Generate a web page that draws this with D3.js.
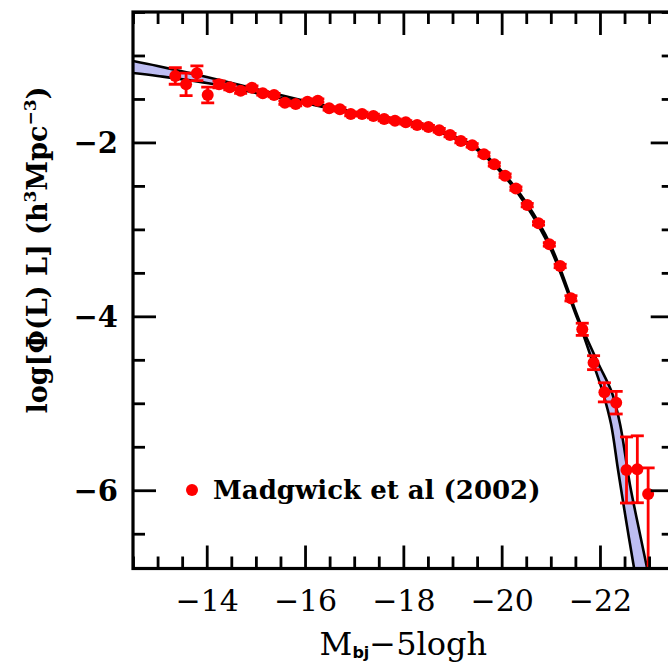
<!DOCTYPE html>
<html>
<head>
<meta charset="utf-8">
<script src="https://cdn.jsdelivr.net/npm/d3@7"></script>
<style>
  body { margin: 0; background: #fff; }
  svg { display: block; }
</style>
</head>
<body>
<div id="chart"></div>
<script>
// Madgwick et al (2002) luminosity function points
let mags = [-13.36, -13.58, -13.80, -14.02, -14.25, -14.47, -14.69, -14.92, -15.14, -15.37,
            -15.59, -15.81, -16.05, -16.26, -16.49, -16.71, -16.93, -17.16, -17.39, -17.61,
            -17.83, -18.05, -18.28, -18.51, -18.73, -18.95, -19.17, -19.40, -19.64, -19.85,
            -20.07, -20.29, -20.52, -20.75, -20.97, -21.19, -21.41, -21.64, -21.87, -22.09,
            -22.33, -22.54, -22.76, -22.98];
let logPhi = [-1.236, -1.332, -1.205, -1.455, -1.332, -1.366, -1.405, -1.371, -1.435, -1.455,
              -1.543, -1.558, -1.532, -1.520, -1.608, -1.619, -1.673, -1.673, -1.696, -1.731,
              -1.750, -1.769, -1.800, -1.823, -1.860, -1.915, -1.984, -2.033, -2.137, -2.252,
              -2.383, -2.530, -2.720, -2.930, -3.172, -3.421, -3.793, -4.149, -4.533, -4.874,
              -4.993, -5.767, -5.759, -6.043];
let errHi = [0.095, 0.13, 0.085, 0.09, 0.04, 0.03, 0.03, 0.02, 0.02, 0.02,
             0.02, 0.02, 0.02, 0.02, 0.02, 0.02, 0.02, 0.02, 0.02, 0.02,
             0.02, 0.02, 0.02, 0.02, 0.02, 0.02, 0.02, 0.02, 0.02, 0.02,
             0.02, 0.02, 0.02, 0.02, 0.02, 0.02, 0.03, 0.07, 0.08, 0.11,
             0.13, 0.38, 0.385, 0.30];
let errLo = [0.095, 0.13, 0.085, 0.09, 0.04, 0.03, 0.03, 0.02, 0.02, 0.02,
             0.02, 0.02, 0.02, 0.02, 0.02, 0.02, 0.02, 0.02, 0.02, 0.02,
             0.02, 0.02, 0.02, 0.02, 0.02, 0.02, 0.02, 0.02, 0.02, 0.02,
             0.02, 0.02, 0.02, 0.02, 0.02, 0.02, 0.03, 0.07, 0.08, 0.11,
             0.13, 0.38, 0.385, 1.5];

// model band: upper and lower edge curves
let upperMag = [-12.5, -13, -14, -15, -16, -17, -18, -18.5, -19, -19.5, -20, -20.5,
                -21, -21.5, -21.635, -21.961, -22.246, -22.408, -22.611, -22.754, -22.958, -23.2];
let upperLog = [-1.064, -1.121, -1.248, -1.386, -1.524, -1.650, -1.748, -1.811, -1.920, -2.064,
                -2.329, -2.691, -3.185, -3.933, -4.129, -4.537, -4.882, -5.238, -5.940, -6.342,
                -6.894, -7.607];
let lowerMag = [-12.5, -13, -14, -15, -16, -17, -18, -18.5, -19, -19.5, -20, -20.5,
                -21, -21.5, -21.635, -21.859, -22.063, -22.225, -22.368, -22.530, -22.693, -22.9];
let lowerLog = [-1.202, -1.236, -1.317, -1.432, -1.547, -1.673, -1.771, -1.834, -1.943, -2.087,
                -2.352, -2.725, -3.231, -3.967, -4.169, -4.537, -4.882, -5.238, -5.767, -6.342,
                -6.894, -7.585];

let xMajor = [-14, -16, -18, -20, -22];
let xLabels = ["\u221214", "\u221216", "\u221218", "\u221220", "\u221222"];
let yMajor = [-2, -4, -6];
let yLabels = ["\u22122", "\u22124", "\u22126"];

let W = 668, H = 666;
let pLeft = 133, pRight = 673.7, pTop = 12, pBottom = 568.5;

var svg = d3.select("#chart").append("svg")
    .attr("width", W)
    .attr("height", H);

var x = d3.scaleLinear().domain([-12.5, -23.5]).range([pLeft, pRight]);
var y = d3.scaleLinear().domain([-0.5, -6.9]).range([pTop, pBottom]);

svg.append("clipPath").attr("id", "plotclip")
  .append("rect")
    .attr("x", pLeft).attr("y", pTop)
    .attr("width", pRight - pLeft).attr("height", pBottom - pTop);

var plot = svg.append("g").attr("clip-path", "url(#plotclip)");

// model band: fill between the two edges
let upperPts = upperMag.map((m, i) => [x(m), y(upperLog[i])]);
let lowerPts = lowerMag.map((m, i) => [x(m), y(lowerLog[i])]);
let edge = d3.line().curve(d3.curveCatmullRom.alpha(0.5));

plot.append("path")
    .attr("fill", "#bdbdf2")
    .attr("d", edge(upperPts) + "L" + edge(lowerPts.slice().reverse()).slice(1) + "Z");

[upperPts, lowerPts].forEach(function(p) {
  plot.append("path")
      .attr("fill", "none")
      .attr("stroke", "#000")
      .attr("stroke-width", 2.6)
      .attr("d", edge(p));
});

// data points with error bars
let pts = mags.map((m, i) => ({m: m, v: logPhi[i], hi: errHi[i], lo: errLo[i]}));
let capW = 6.5;

var eb = plot.append("g")
    .attr("stroke", "#ff0000")
    .attr("stroke-width", 2.8);

eb.selectAll(".bar").data(pts).enter().append("line")
    .attr("x1", d => x(d.m)).attr("x2", d => x(d.m))
    .attr("y1", d => y(d.v + d.hi)).attr("y2", d => y(d.v - d.lo));
eb.selectAll(".capt").data(pts).enter().append("line")
    .attr("x1", d => x(d.m) - capW).attr("x2", d => x(d.m) + capW)
    .attr("y1", d => y(d.v + d.hi)).attr("y2", d => y(d.v + d.hi));
eb.selectAll(".capb").data(pts).enter().append("line")
    .attr("x1", d => x(d.m) - capW).attr("x2", d => x(d.m) + capW)
    .attr("y1", d => y(d.v - d.lo)).attr("y2", d => y(d.v - d.lo));

plot.selectAll(".dot").data(pts).enter().append("circle")
    .attr("cx", d => x(d.m))
    .attr("cy", d => y(d.v))
    .attr("r", 6)
    .attr("fill", "#ff0000");

// axes
let xMinor = d3.range(-12.5, -23.6, -0.5).filter(v => xMajor.indexOf(v) < 0);
let yMinor = d3.range(-0.5, -7.0, -0.5).filter(v => yMajor.indexOf(v) < 0);

function styleAxis(g) {
  g.select(".domain").remove();
  g.selectAll(".tick line").attr("stroke", "#000").attr("stroke-width", 2.8);
}

// bottom
svg.append("g").attr("transform", "translate(0," + pBottom + ")")
  .call(d3.axisBottom(x).tickValues(xMinor).tickSize(-12).tickFormat(""))
  .call(styleAxis);
var xb = svg.append("g").attr("transform", "translate(0," + pBottom + ")")
  .call(d3.axisBottom(x).tickValues(xMajor).tickSize(-23)
        .tickFormat((d, i) => xLabels[i]))
  .call(styleAxis);
xb.selectAll("text")
    .attr("y", 42).attr("dy", null)
    .attr("font-family", "DejaVu Serif")
    .attr("font-size", 30)
    .attr("fill", "#000");

// top
svg.append("g").attr("transform", "translate(0," + pTop + ")")
  .call(d3.axisTop(x).tickValues(xMinor).tickSize(-12).tickFormat(""))
  .call(styleAxis);
svg.append("g").attr("transform", "translate(0," + pTop + ")")
  .call(d3.axisTop(x).tickValues(xMajor).tickSize(-23).tickFormat(""))
  .call(styleAxis);

// left
svg.append("g").attr("transform", "translate(" + pLeft + ",0)")
  .call(d3.axisLeft(y).tickValues(yMinor).tickSize(-12).tickFormat(""))
  .call(styleAxis);
var yl = svg.append("g").attr("transform", "translate(" + pLeft + ",0)")
  .call(d3.axisLeft(y).tickValues(yMajor).tickSize(-23).tickPadding(15)
        .tickFormat((d, i) => yLabels[i]))
  .call(styleAxis);
yl.selectAll("text")
    .attr("font-family", "DejaVu Serif")
    .attr("font-weight", "bold")
    .attr("font-size", 29)
    .attr("dy", "0.36em")
    .attr("fill", "#000");

// right
svg.append("g").attr("transform", "translate(" + pRight + ",0)")
  .call(d3.axisRight(y).tickValues(yMinor).tickSize(-12).tickFormat(""))
  .call(styleAxis);
svg.append("g").attr("transform", "translate(" + pRight + ",0)")
  .call(d3.axisRight(y).tickValues(yMajor).tickSize(-23).tickFormat(""))
  .call(styleAxis);

// frame
svg.append("rect")
    .attr("x", pLeft).attr("y", pTop)
    .attr("width", pRight - pLeft).attr("height", pBottom - pTop)
    .attr("fill", "none")
    .attr("stroke", "#000")
    .attr("stroke-width", 3.2);

// x title
var xt = svg.append("text")
    .attr("x", (pLeft + pRight) / 2)
    .attr("y", 655)
    .attr("text-anchor", "middle")
    .attr("font-family", "DejaVu Serif")
    .attr("font-size", 32)
    .attr("fill", "#000");
xt.append("tspan").text("M");
xt.append("tspan").attr("font-family", "DejaVu Sans").attr("font-weight", "bold")
    .attr("font-size", 16).attr("dy", 3).text("b");
xt.append("tspan").attr("font-family", "DejaVu Sans").attr("font-weight", "bold")
    .attr("font-size", 16).attr("dy", 0).text("j");
xt.append("tspan").attr("dy", -3).text("\u22125logh");

// y title
var yt = svg.append("text")
    .attr("transform", "translate(47,250) rotate(-90)")
    .attr("text-anchor", "middle")
    .attr("font-family", "DejaVu Serif")
    .attr("font-weight", "bold")
    .attr("font-size", 27)
    .attr("fill", "#000");
yt.append("tspan").text("log[\u03a6(L) L] (h");
yt.append("tspan").attr("font-size", 17).attr("dy", -11).text("3");
yt.append("tspan").attr("dy", 11).text("Mpc");
yt.append("tspan").attr("font-size", 17).attr("dy", -11).text("\u22123");
yt.append("tspan").attr("dy", 11).text(")");

// legend
svg.append("circle")
    .attr("cx", 192).attr("cy", 490).attr("r", 6)
    .attr("fill", "#ff0000");
svg.append("text")
    .attr("x", 213).attr("y", 498.5)
    .attr("font-family", "DejaVu Serif")
    .attr("font-weight", "bold")
    .attr("font-size", 26)
    .attr("fill", "#000")
    .text("Madgwick et al (2002)");
</script>
</body>
</html>
